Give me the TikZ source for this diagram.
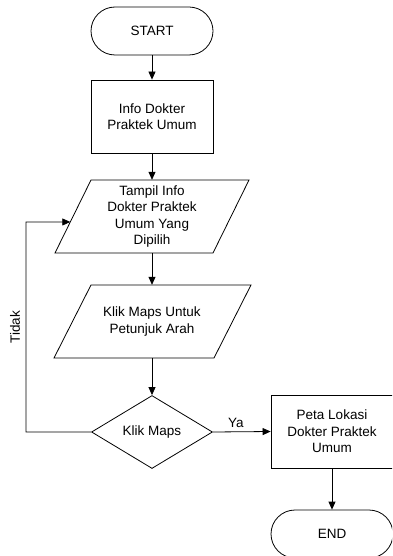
\documentclass[tikz,border=0pt]{standalone}
\usepackage{fontspec}
\setmainfont{Liberation Sans}
\usetikzlibrary{arrows.meta,shapes.geometric,calc}
\begin{document}
\begin{tikzpicture}[x=1pt,y=-1pt,
  every node/.style={font=\fontsize{13.5}{16.5}\selectfont, align=center, inner sep=0pt},
  line/.style={line width=0.8pt, black},
  flow/.style={line, -{Triangle[length=8pt,width=7pt]}},
  terminal/.style={line, draw, rectangle, rounded corners=24pt, minimum width=122pt, minimum height=48pt},
  procbox/.style={line, draw, rectangle, minimum width=122pt, minimum height=73pt},
  ioarea/.style={rectangle, minimum width=122pt, minimum height=73pt},
  decision/.style={line, draw, diamond, aspect=1.66, minimum width=121pt, minimum height=73pt}]
\useasboundingbox (0,0) rectangle (392,556);
\clip (0,0) rectangle (392,556);

% main column
\node[terminal] (start) at (152,31) {START};
\node[procbox] (info) at (152,116.5) {Info Dokter\\Praktek Umum};

% first input/output parallelogram
\node[ioarea] (tampil) at (152,216.5) {Tampil Info\\Dokter Praktek\\Umum Yang\\Dipilih};
\coordinate (t-tl) at (91,180);
\coordinate (t-tr) at (249,180);
\coordinate (t-br) at (213,253);
\coordinate (t-bl) at (55,253);
\draw[line] (t-tl) -- (t-tr) -- (t-br) -- (t-bl) -- cycle;
\coordinate (t-in) at ($(t-tl)!0.575!(t-bl)$);

% second input/output parallelogram
\node[ioarea] (klik) at (152,321.5) {Klik Maps Untuk\\Petunjuk Arah};
\coordinate (k-tl) at (91,285);
\coordinate (k-tr) at (251,285);
\coordinate (k-br) at (214,358);
\coordinate (k-bl) at (54,358);
\draw[line] (k-tl) -- (k-tr) -- (k-br) -- (k-bl) -- cycle;

\node[decision] (maps) at (152,432) {Klik Maps};

% right column
\node[procbox] (peta) at (332,431.5) {Peta Lokasi\\Dokter Praktek\\Umum};
\node[terminal] (end) at (332,534) {END};

% connectors
\draw[flow] (start.south) -- (info.north);
\draw[flow] (info.south) -- (tampil.north);
\draw[flow] (tampil.south) -- (klik.north);
\draw[flow] (klik.south) -- (maps.north);
\draw[flow] (maps.east) -- node[above=4pt, pos=0.4] {Ya} (peta.west);
\draw[flow] (peta.south) -- (end.north);
\coordinate (loopbot) at (26,432);
\coordinate (looptop) at (26,222);
\draw[flow] (maps.west) -- (loopbot) -- (looptop) -- (t-in);
\node[rotate=90] (tidak) at (15,327) {Tidak};
\end{tikzpicture}
\end{document}
